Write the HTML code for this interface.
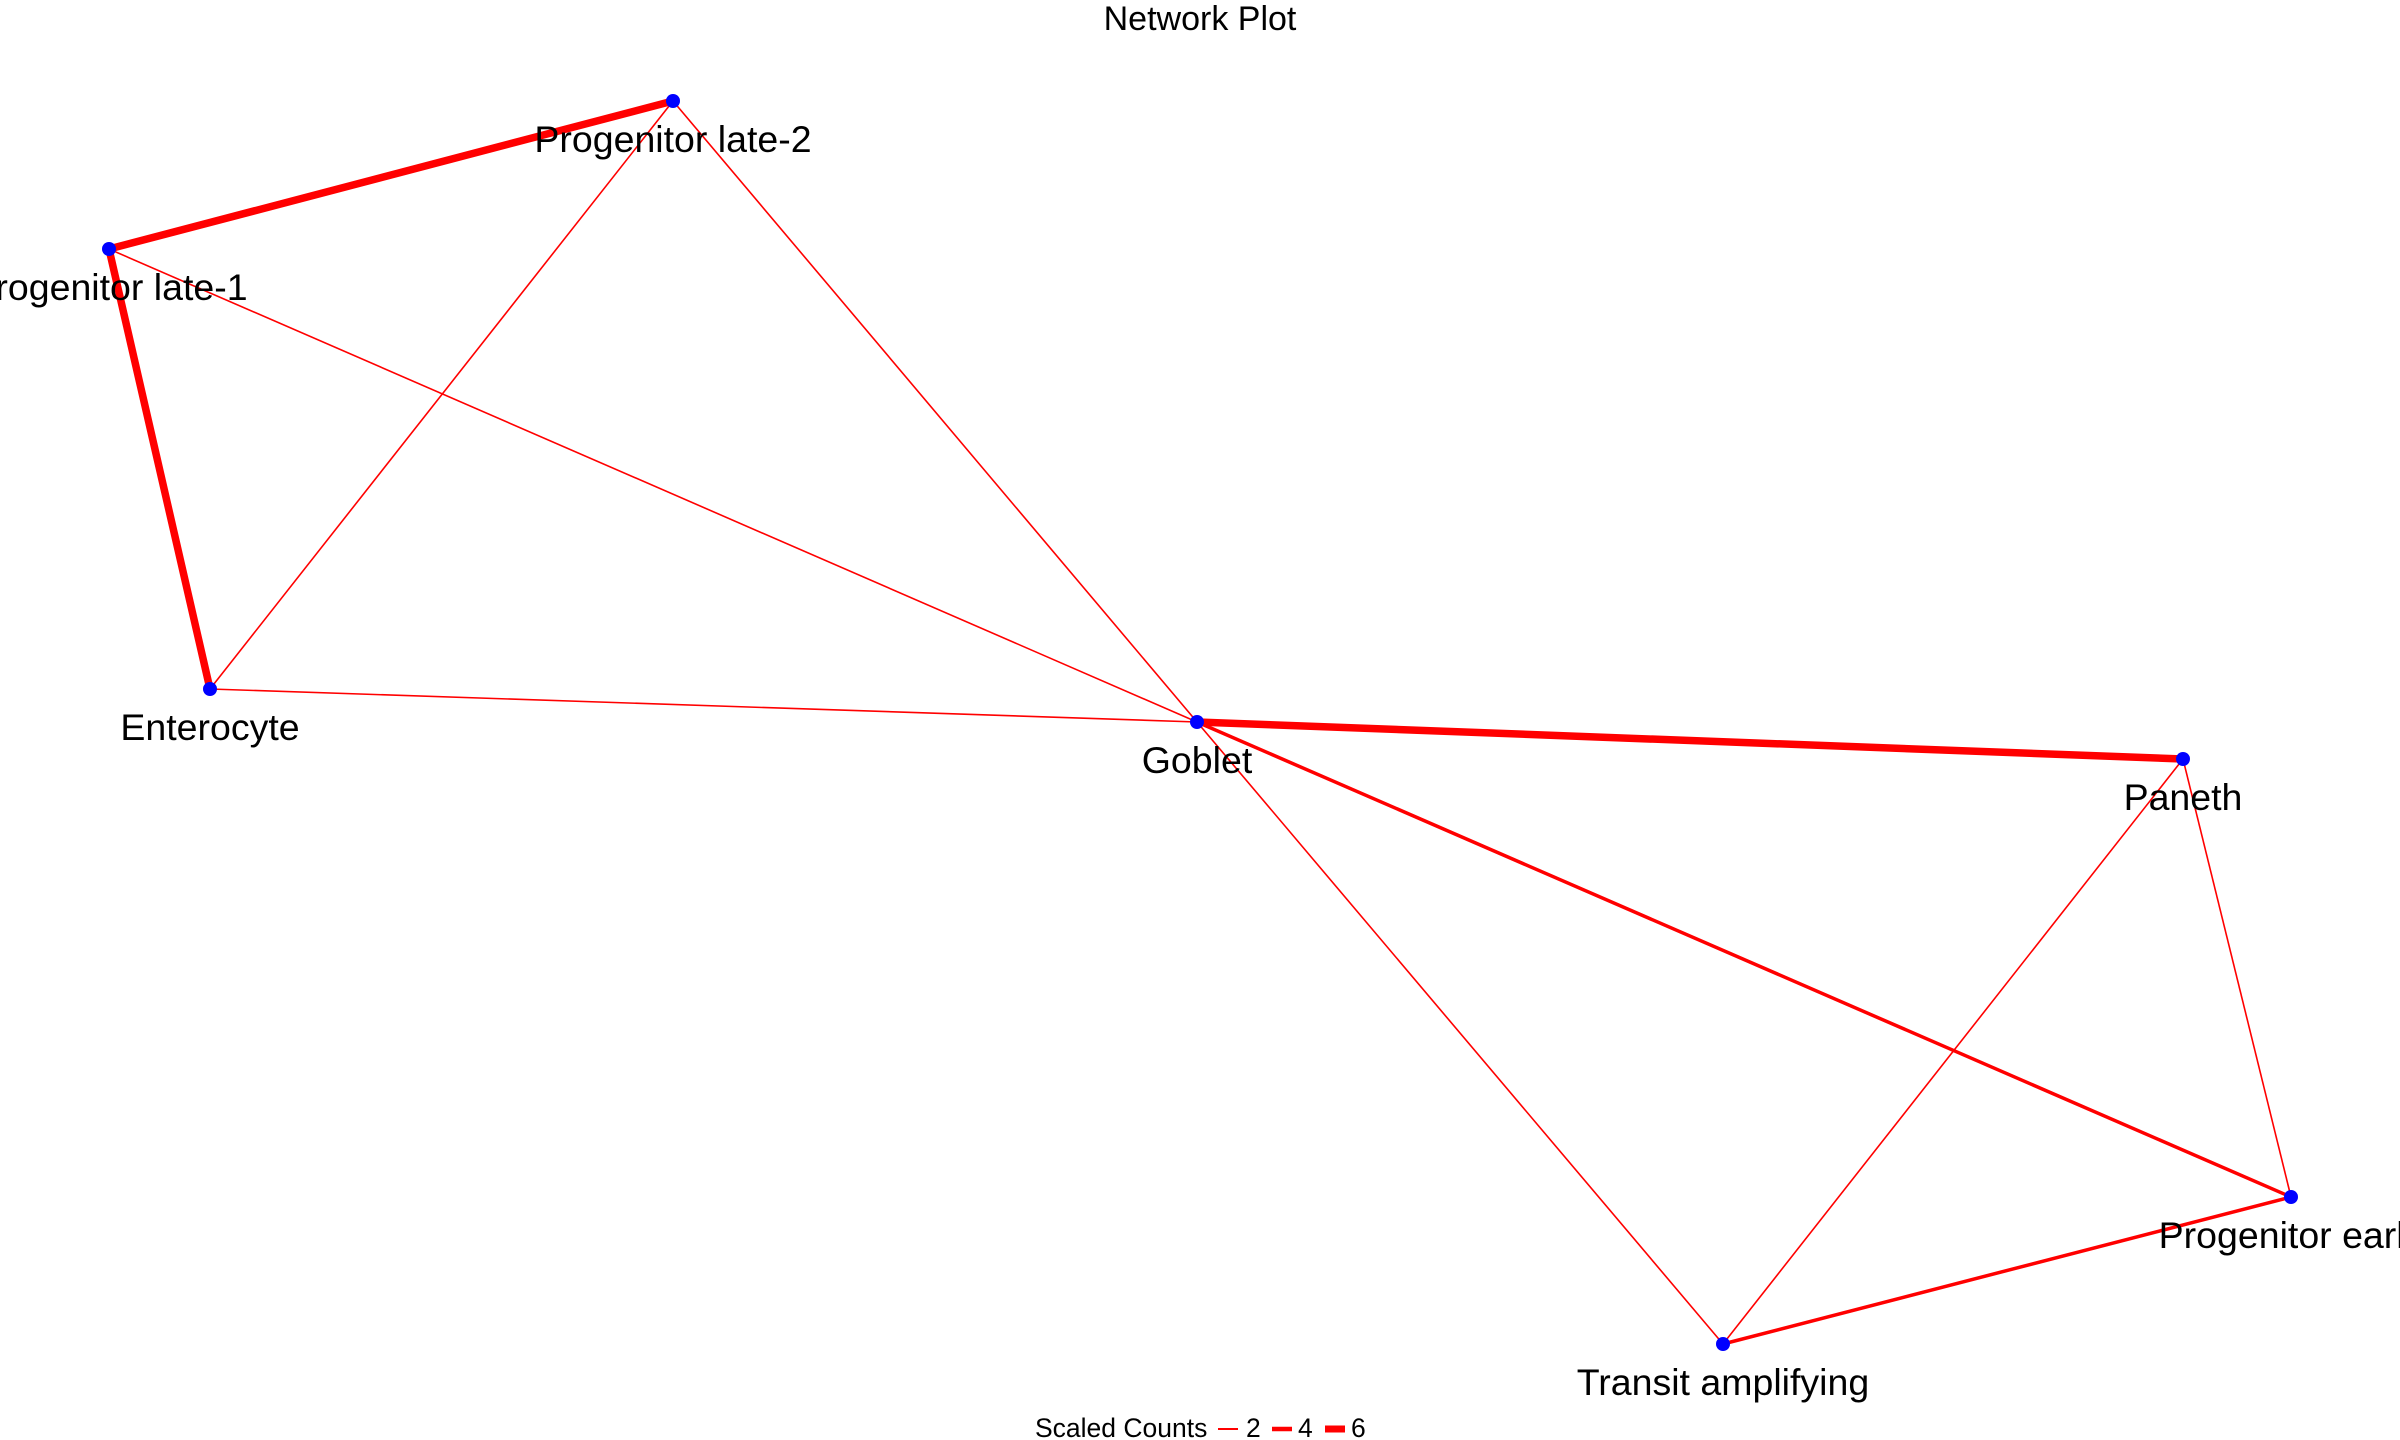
<!DOCTYPE html>
<html><head><meta charset="utf-8"><style>
html,body{margin:0;padding:0;background:#fff;}
svg{display:block;}
text{font-family:"Liberation Sans",sans-serif;fill:#000;}
</style></head><body>
<svg width="2400" height="1440" viewBox="0 0 2400 1440" xmlns="http://www.w3.org/2000/svg">
<rect width="2400" height="1440" fill="#fff"/>
<text x="1200" y="30" font-size="34" text-anchor="middle">Network Plot</text>
<g stroke="#ff0000" stroke-linecap="butt" fill="none">
<line x1="109" y1="249" x2="673" y2="101" stroke-width="7.5"/>
<line x1="109" y1="249" x2="210" y2="689" stroke-width="7.5"/>
<line x1="1197" y1="722" x2="2183" y2="759" stroke-width="7.5"/>
<line x1="1197" y1="722" x2="2291" y2="1197" stroke-width="3.5"/>
<line x1="2291" y1="1197" x2="1723" y2="1344" stroke-width="3.5"/>
<line x1="673" y1="101" x2="210" y2="689" stroke-width="1.6"/>
<line x1="673" y1="101" x2="1197" y2="722" stroke-width="1.6"/>
<line x1="109" y1="249" x2="1197" y2="722" stroke-width="1.6"/>
<line x1="210" y1="689" x2="1197" y2="722" stroke-width="1.6"/>
<line x1="1197" y1="722" x2="1723" y2="1344" stroke-width="1.6"/>
<line x1="2183" y1="759" x2="1723" y2="1344" stroke-width="1.6"/>
<line x1="2183" y1="759" x2="2291" y2="1197" stroke-width="1.6"/>
</g>
<g fill="#0000ff">
<circle cx="673" cy="101" r="7"/>
<circle cx="109" cy="249" r="7"/>
<circle cx="210" cy="689" r="7"/>
<circle cx="1197" cy="722" r="7"/>
<circle cx="2183" cy="759" r="7"/>
<circle cx="2291" cy="1197" r="7"/>
<circle cx="1723" cy="1344" r="7"/>
</g>
<g font-size="37.5" text-anchor="middle">
<text x="673" y="152">Progenitor late-2</text>
<text x="109" y="300">Progenitor late-1</text>
<text x="210" y="740">Enterocyte</text>
<text x="1197" y="773">Goblet</text>
<text x="2183" y="810">Paneth</text>
<text x="2291" y="1248">Progenitor early</text>
<text x="1723" y="1395">Transit amplifying</text>
</g>
<g font-size="26.5">
<text x="1035" y="1437">Scaled Counts</text>
<line x1="1218" y1="1429" x2="1238" y2="1429" stroke="#ff0000" stroke-width="2"/>
<text x="1246" y="1437">2</text>
<line x1="1272" y1="1429" x2="1292" y2="1429" stroke="#ff0000" stroke-width="4.5"/>
<text x="1298" y="1437">4</text>
<line x1="1325" y1="1429" x2="1345" y2="1429" stroke="#ff0000" stroke-width="7"/>
<text x="1351" y="1437">6</text>
</g>
</svg>
</body></html>
